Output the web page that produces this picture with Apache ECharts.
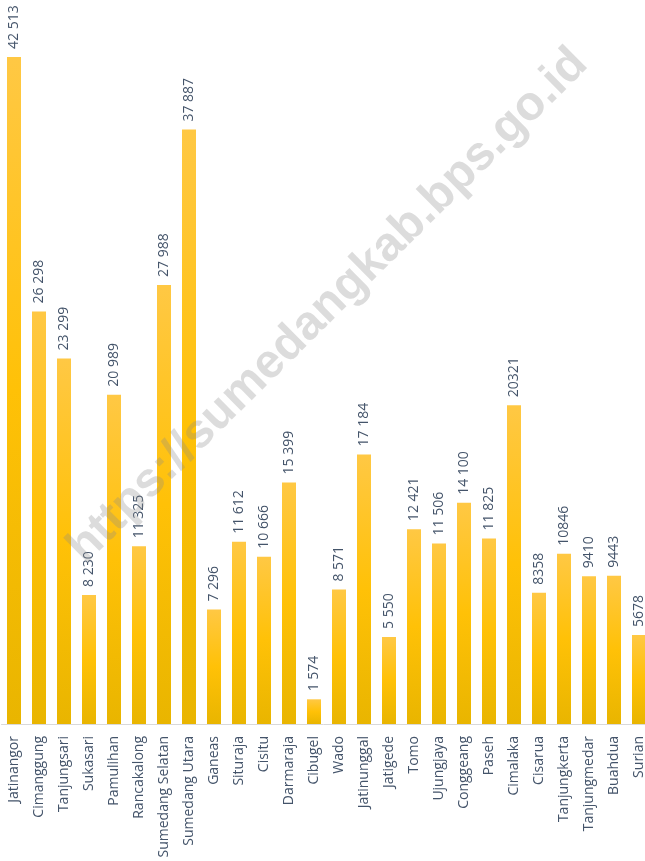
<!DOCTYPE html>
<html>
<head>
<meta charset="utf-8">
<script src="https://cdn.jsdelivr.net/npm/echarts@6/dist/echarts.min.js"></script>
<style>
html, body { margin: 0; padding: 0; background: #fff; }
#main { width: 645px; height: 861px; }
</style>
</head>
<body>
<div id="main"></div>
<script>
// kecamatan
var categories = ['Jatinangor', 'Cimanggung', 'Tanjungsari', 'Sukasari', 'Pamulihan', 'Rancakalong',
    'Sumedang Selatan', 'Sumedang Utara', 'Ganeas', 'Situraja', 'Cisitu', 'Darmaraja', 'Cibugel',
    'Wado', 'Jatinunggal', 'Jatigede', 'Tomo', 'Ujungjaya', 'Conggeang', 'Paseh', 'Cimalaka',
    'Cisarua', 'Tanjungkerta', 'Tanjungmedar', 'Buahdua', 'Surian'];
var values = [42513, 26298, 23299, 8230, 20989, 11325, 27988, 37887, 7296, 11612, 10666, 15399, 1574,
    8571, 17184, 5550, 12421, 11506, 14100, 11825, 20321, 8358, 10846, 9410, 9443, 5678];
// label seperti di gambar (ada yang pakai spasi ribuan, ada yang tidak)
var valueLabels = ['42 513', '26 298', '23 299', '8 230', '20 989', '11 325', '27 988', '37 887', '7 296',
    '11 612', '10 666', '15 399', '1 574', '8 571', '17 184', '5 550', '12 421', '11 506', '14 100',
    '11 825', '20321', '8358', '10846', '9410', '9443', '5678'];
var yMax = 45000;

var textColor = '#44546A';
var chart = echarts.init(document.getElementById('main'));

var option = {
    animation: false,
    grid: {
        top: 18,
        bottom: 137,
        left: 1.5,
        right: -6.5,
        outerBoundsMode: 'none'
    },
    xAxis: {
        type: 'category',
        data: categories,
        axisLine: { show: true, lineStyle: { color: '#D9D9D9', width: 1 } },
        axisTick: { show: false },
        axisLabel: {
            rotate: 90,
            interval: 0,
            margin: 12,
            color: textColor,
            fontFamily: 'Open Sans',
            fontSize: 14
        }
    },
    yAxis: {
        type: 'value',
        min: 0,
        max: yMax,
        show: false,
        splitLine: { show: false }
    },
    series: [{
        type: 'bar',
        data: values,
        barWidth: 14,
        itemStyle: {
            color: new echarts.graphic.LinearGradient(0, 0, 0, 1, [
                { offset: 0, color: '#FFC844' },
                { offset: 0.5, color: '#FFC107' },
                { offset: 1, color: '#E9B500' }
            ])
        },
        label: {
            show: true,
            position: 'top',
            rotate: 90,
            align: 'left',
            verticalAlign: 'middle',
            distance: 8,
            color: textColor,
            fontFamily: 'Open Sans',
            fontSize: 14,
            formatter: function (p) {
                return valueLabels[p.dataIndex];
            }
        }
    }],
    graphic: [{
        type: 'text',
        x: 328,
        y: 306,
        rotation: 0.78,
        z: 100,
        silent: true,
        style: {
            text: 'https://sumedangkab.bps.go.id',
            fill: 'rgba(140,140,140,0.3)',
            font: 'bold 48px "Liberation Sans", Arial, sans-serif',
            align: 'center',
            verticalAlign: 'middle'
        }
    }]
};

chart.setOption(option);
window.addEventListener('resize', function () {
    chart.resize();
});
</script>
</body>
</html>
